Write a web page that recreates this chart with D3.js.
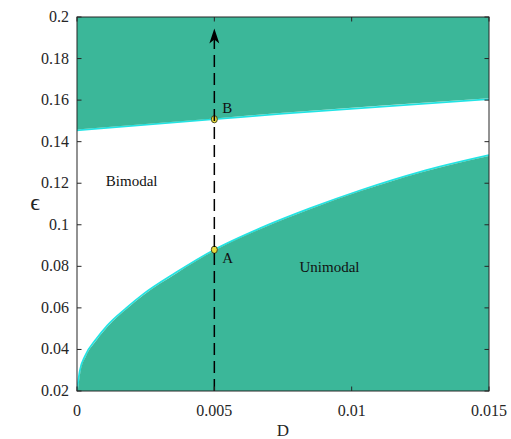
<!DOCTYPE html>
<html>
<head>
<meta charset="utf-8">
<script src="https://cdn.jsdelivr.net/npm/d3@7"></script>
<style>
  html, body { margin: 0; padding: 0; background: #fff; }
  svg { display: block; }
</style>
</head>
<body>
<svg id="chart" width="511" height="439" font-family="'Liberation Serif', 'Times New Roman', 'DejaVu Serif', serif"></svg>
<script>
// Phase boundaries in the (D, epsilon) plane
const lowerD   = [0, 0.0001, 0.0003, 0.0007, 0.0011, 0.0018, 0.0024, 0.0036, 0.005, 0.0067, 0.0085, 0.0103, 0.0125, 0.015];
const lowerEps = [0.02, 0.0295, 0.037, 0.045, 0.0515, 0.060, 0.0665, 0.077, 0.088, 0.0985, 0.108, 0.1165, 0.1255, 0.1335];
const upperD   = [0, 0.005, 0.0075, 0.015];
const upperEps = [0.1455, 0.1508, 0.1535, 0.1605];

// Marked states along the path at D = 0.005
const pointNames = ["A", "B"];
const pointD     = [0.005, 0.005];
const pointEps   = [0.088, 0.1508];

const xTicks = [0, 0.005, 0.01, 0.015];
const xTickLabels = ["0", "0.005", "0.01", "0.015"];
const yTicks = [0.02, 0.04, 0.06, 0.08, 0.1, 0.12, 0.14, 0.16, 0.18, 0.2];
const yTickLabels = ["0.02", "0.04", "0.06", "0.08", "0.1", "0.12", "0.14", "0.16", "0.18", "0.2"];

const regionNames = ["Bimodal", "Unimodal"];
const regionD     = [0.00105, 0.0081];
const regionEps   = [0.1185, 0.0775];

const pathD = 0.005, pathFrom = 0.02, pathTo = 0.1945;

const W = 511, H = 439;
const m = { left: 77, right: 22, top: 17, bottom: 48 };
const svg = d3.select("#chart");

const x = d3.scaleLinear().domain([0, 0.015]).range([m.left, W - m.right]);
const y = d3.scaleLinear().domain([0.02, 0.2]).range([H - m.bottom, m.top]);

const fillColor = "#3bb799";
const edgeColor = "#22e4e4";
const axisColor = "#262626";
const textColor = "#262626";

const lower = lowerD.map((d, i) => [d, lowerEps[i]]);
const upper = upperD.map((d, i) => [d, upperEps[i]]);

svg.append("defs").append("clipPath").attr("id", "plotclip")
  .append("rect").attr("x", x(0)).attr("y", y(0.2))
  .attr("width", x(0.015) - x(0)).attr("height", y(0.02) - y(0.2));

const plot = svg.append("g").attr("clip-path", "url(#plotclip)");

const curve = d3.curveMonotoneX;
// Unimodal region below the lower boundary
const areaBelow = d3.area().x(d => x(d[0])).y0(y(0.02)).y1(d => y(d[1])).curve(curve);
// Upper region above the upper boundary
const areaAbove = d3.area().x(d => x(d[0])).y0(y(0.2)).y1(d => y(d[1])).curve(curve);
const edge = d3.line().x(d => x(d[0])).y(d => y(d[1])).curve(curve);

plot.append("path").datum(lower).attr("d", edge)
  .attr("fill", "none").attr("stroke", edgeColor).attr("stroke-width", 1.8);
plot.append("path").datum(upper).attr("d", edge)
  .attr("fill", "none").attr("stroke", edgeColor).attr("stroke-width", 1.8);
plot.append("path").datum(lower).attr("d", areaBelow).attr("fill", fillColor)
  .attr("transform", "translate(0.7,0.6)");
plot.append("path").datum(upper).attr("d", areaAbove).attr("fill", fillColor)
  .attr("transform", "translate(0,-0.8)");

// Region labels
svg.selectAll("text.region").data(regionNames).enter().append("text")
  .attr("class", "region")
  .attr("x", (d, i) => x(regionD[i]))
  .attr("y", (d, i) => y(regionEps[i]))
  .attr("font-size", 15)
  .attr("fill", "#111")
  .text(d => d);

// Markers
svg.selectAll("ellipse.pt").data(pointNames).enter().append("ellipse")
  .attr("class", "pt")
  .attr("cx", (d, i) => x(pointD[i]))
  .attr("cy", (d, i) => y(pointEps[i]))
  .attr("rx", 3).attr("ry", 3.6)
  .attr("fill", "#e8dc3a").attr("stroke", "#4a4a20").attr("stroke-width", 1);

// Dashed path of increasing epsilon
svg.append("line")
  .attr("x1", x(pathD)).attr("x2", x(pathD))
  .attr("y1", y(pathFrom)).attr("y2", y(pathTo) + 10)
  .attr("stroke", "#000").attr("stroke-width", 1.5)
  .attr("stroke-dasharray", "12,6");
const tipX = x(pathD), tipY = y(pathTo);
svg.append("path")
  .attr("d", `M${tipX},${tipY} L${tipX + 5},${tipY + 15} L${tipX},${tipY + 11} L${tipX - 5},${tipY + 15} Z`)
  .attr("fill", "#000");

svg.selectAll("text.ptlabel").data(pointNames).enter().append("text")
  .attr("class", "ptlabel")
  .attr("x", (d, i) => x(pointD[i]) + 8)
  .attr("y", (d, i) => y(pointEps[i]) + (i === 0 ? 13 : -6))
  .attr("font-size", 15)
  .attr("fill", "#111")
  .text(d => d);

// Frame and ticks (inward, on all sides)
const gAxis = svg.append("g");
gAxis.append("rect")
  .attr("x", x(0)).attr("y", y(0.2))
  .attr("width", x(0.015) - x(0)).attr("height", y(0.02) - y(0.2))
  .attr("fill", "none").attr("stroke", axisColor).attr("stroke-width", 1);

const tl = 4.5;
xTicks.forEach(t => {
  gAxis.append("line").attr("x1", x(t)).attr("x2", x(t))
    .attr("y1", y(0.02)).attr("y2", y(0.02) - tl).attr("stroke", axisColor);
  gAxis.append("line").attr("x1", x(t)).attr("x2", x(t))
    .attr("y1", y(0.2)).attr("y2", y(0.2) + tl).attr("stroke", axisColor);
});
yTicks.forEach(t => {
  gAxis.append("line").attr("x1", x(0)).attr("x2", x(0) + tl)
    .attr("y1", y(t)).attr("y2", y(t)).attr("stroke", axisColor);
  gAxis.append("line").attr("x1", x(0.015)).attr("x2", x(0.015) - tl)
    .attr("y1", y(t)).attr("y2", y(t)).attr("stroke", axisColor);
});

gAxis.selectAll("text.xt").data(xTicks).enter().append("text")
  .attr("class", "xt")
  .attr("x", d => x(d)).attr("y", y(0.02) + 25)
  .attr("text-anchor", "middle").attr("font-size", 16).attr("fill", textColor)
  .text((d, i) => xTickLabels[i]);
gAxis.selectAll("text.yt").data(yTicks).enter().append("text")
  .attr("class", "yt")
  .attr("x", x(0) - 8).attr("y", d => y(d) + 5)
  .attr("text-anchor", "end").attr("font-size", 16).attr("fill", textColor)
  .text((d, i) => yTickLabels[i]);

svg.append("text").attr("x", (x(0) + x(0.015)) / 2).attr("y", H - 3)
  .attr("text-anchor", "middle").attr("font-size", 17).attr("fill", textColor).text("D");
svg.append("text").attr("x", 35).attr("y", (y(0.02) + y(0.2)) / 2 + 6)
  .attr("text-anchor", "middle").attr("font-size", 24).attr("fill", textColor).text("ϵ");
</script>
</body>
</html>
